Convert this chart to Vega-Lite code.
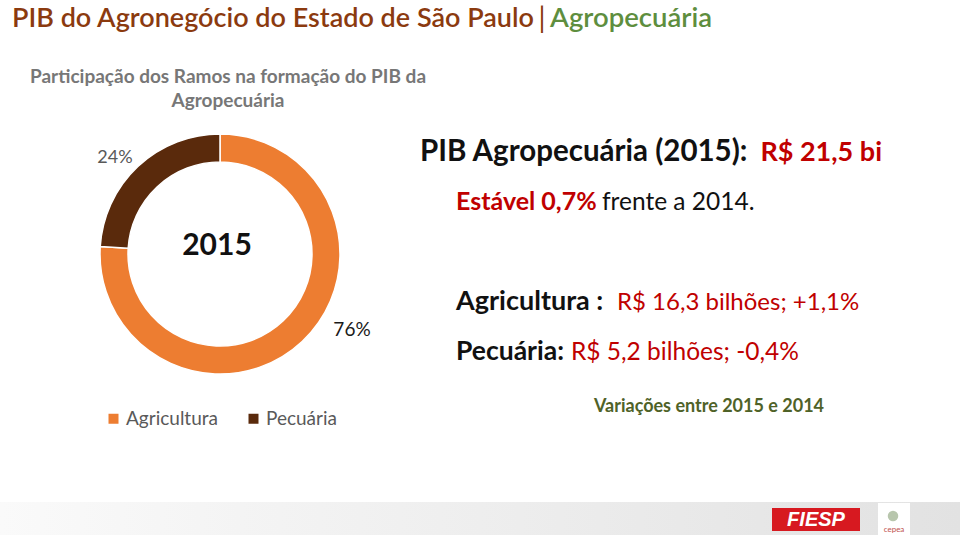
{
  "$schema": "https://vega.github.io/schema/vega-lite/v6.json",
  "width": 960,
  "height": 539,
  "autosize": {"type": "none"},
  "padding": 0,
  "background": "white",
  "config": {"view": {"stroke": null}, "font": "Lato"},
  "layer": [
    {
      "data": {"values": [{"faixa": "rodape"}]},
      "mark": {"type": "rect", "x": 0, "x2": 960, "y": 502, "y2": 535,
        "color": {"gradient": "linear", "x1": 0, "x2": 1, "y1": 0, "y2": 0,
          "stops": [{"offset": 0, "color": "#fafafa"}, {"offset": 1, "color": "#e2e2e2"}]}},
      "encoding": {}
    },
    {
      "data": {"values": [{"t": "PIB do Agronegócio do Estado de São Paulo"}]},
      "mark": {"type": "text", "x": 12, "y": 27, "align": "left", "baseline": "alphabetic", "fontSize": 27, "fontWeight": 600, "color": "#8B3A0F"},
      "encoding": {"text": {"field": "t"}}
    },
    {
      "data": {"values": [{"t": "|"}]},
      "mark": {"type": "text", "x": 542, "y": 28, "align": "center", "baseline": "alphabetic", "fontSize": 28, "fontWeight": 400, "color": "#8B3A0F"},
      "encoding": {"text": {"field": "t"}}
    },
    {
      "data": {"values": [{"t": "Agropecuária"}]},
      "mark": {"type": "text", "x": 550, "y": 27, "align": "left", "baseline": "alphabetic", "fontSize": 27.5, "fontWeight": 600, "color": "#5E8E3E"},
      "encoding": {"text": {"field": "t"}}
    },
    {
      "data": {"values": [{"t": "Participação dos Ramos na formação do PIB da"}]},
      "mark": {"type": "text", "x": 228, "y": 83, "align": "center", "baseline": "alphabetic", "fontSize": 19, "fontWeight": "bold", "color": "#777777"},
      "encoding": {"text": {"field": "t"}}
    },
    {
      "data": {"values": [{"t": "Agropecuária"}]},
      "mark": {"type": "text", "x": 228, "y": 107, "align": "center", "baseline": "alphabetic", "fontSize": 19, "fontWeight": "bold", "color": "#777777"},
      "encoding": {"text": {"field": "t"}}
    },
    {
      "data": {"values": [
        {"ramo": "Agricultura", "participacao": 0.76},
        {"ramo": "Pecuária", "participacao": 0.24}
      ]},
      "layer": [
        {
          "mark": {"type": "arc", "x": 220, "y": 254, "radius": 120, "radius2": 92, "stroke": "white", "strokeWidth": 1.5},
          "encoding": {
            "theta": {"field": "participacao", "type": "quantitative", "stack": true},
            "color": {"field": "ramo", "type": "nominal",
              "scale": {"domain": ["Agricultura", "Pecuária"], "range": ["#ED7D31", "#5A2A0C"]},
              "legend": {"orient": "none", "legendX": 104, "legendY": 409, "direction": "horizontal", "title": null,
                "symbolType": "square", "symbolSize": 100, "symbolStrokeWidth": 0, "labelFontSize": 19, "labelColor": "#595959",
                "labelFont": "Lato", "columnPadding": 26, "labelOffset": 3}}
          }
        },
        {
          "transform": [{"filter": "datum.ramo === 'Pecuária'"}],
          "mark": {"type": "text", "x": 115, "y": 158, "align": "center", "baseline": "middle", "fontSize": 18, "color": "#595959"},
          "encoding": {"text": {"field": "participacao", "type": "quantitative", "format": ".0%"}}
        },
        {
          "transform": [{"filter": "datum.ramo === 'Agricultura'"}],
          "mark": {"type": "text", "x": 352, "y": 330, "align": "center", "baseline": "middle", "fontSize": 19, "color": "#1a1a1a"},
          "encoding": {"text": {"field": "participacao", "type": "quantitative", "format": ".0%"}}
        }
      ]
    },
    {
      "data": {"values": [{"t": "2015"}]},
      "mark": {"type": "text", "x": 217, "y": 246, "align": "center", "baseline": "middle", "fontSize": 30, "fontWeight": "bold", "color": "#111111"},
      "encoding": {"text": {"field": "t"}}
    },
    {
      "data": {"values": [{"t": "PIB Agropecuária (2015):"}]},
      "mark": {"type": "text", "x": 420, "y": 161, "align": "left", "baseline": "alphabetic", "fontSize": 29.5, "fontWeight": "bold", "color": "#111111"},
      "encoding": {"text": {"field": "t"}}
    },
    {
      "data": {"values": [{"t": "R$ 21,5 bi"}]},
      "mark": {"type": "text", "x": 882, "y": 161, "align": "right", "baseline": "alphabetic", "fontSize": 27, "fontWeight": "bold", "color": "#C00000"},
      "encoding": {"text": {"field": "t"}}
    },
    {
      "data": {"values": [{"t": "Estável 0,7%"}]},
      "mark": {"type": "text", "x": 456, "y": 210, "align": "left", "baseline": "alphabetic", "fontSize": 25, "fontWeight": "bold", "color": "#C00000"},
      "encoding": {"text": {"field": "t"}}
    },
    {
      "data": {"values": [{"t": "frente a 2014."}]},
      "mark": {"type": "text", "x": 602, "y": 210, "align": "left", "baseline": "alphabetic", "fontSize": 24.5, "color": "#111111"},
      "encoding": {"text": {"field": "t"}}
    },
    {
      "data": {"values": [{"t": "Agricultura :"}]},
      "mark": {"type": "text", "x": 456, "y": 310, "align": "left", "baseline": "alphabetic", "fontSize": 27, "fontWeight": "bold", "color": "#111111"},
      "encoding": {"text": {"field": "t"}}
    },
    {
      "data": {"values": [{"t": "R$ 16,3 bilhões; +1,1%"}]},
      "mark": {"type": "text", "x": 617, "y": 310, "align": "left", "baseline": "alphabetic", "fontSize": 24, "color": "#C00000"},
      "encoding": {"text": {"field": "t"}}
    },
    {
      "data": {"values": [{"t": "Pecuária:"}]},
      "mark": {"type": "text", "x": 456, "y": 360, "align": "left", "baseline": "alphabetic", "fontSize": 26.5, "fontWeight": "bold", "color": "#111111"},
      "encoding": {"text": {"field": "t"}}
    },
    {
      "data": {"values": [{"t": "R$ 5,2 bilhões; -0,4%"}]},
      "mark": {"type": "text", "x": 571, "y": 360, "align": "left", "baseline": "alphabetic", "fontSize": 24.5, "color": "#C00000"},
      "encoding": {"text": {"field": "t"}}
    },
    {
      "data": {"values": [{"t": "Variações entre 2015 e 2014"}]},
      "mark": {"type": "text", "x": 709, "y": 412, "align": "center", "baseline": "alphabetic", "fontSize": 18, "fontWeight": "bold", "color": "#4F6228"},
      "encoding": {"text": {"field": "t"}}
    },
    {
      "data": {"values": [{"logo": "FIESP"}]},
      "layer": [
        {"mark": {"type": "rect", "x": 772, "x2": 860, "y": 508, "y2": 531, "color": "#D71920"}, "encoding": {}},
        {"mark": {"type": "text", "x": 816, "y": 520, "align": "center", "baseline": "middle", "fontSize": 20, "fontWeight": "bold", "fontStyle": "italic", "color": "white", "font": "Liberation Sans"},
         "encoding": {"text": {"field": "logo"}}}
      ]
    },
    {
      "data": {"values": [{"logo": "cepea"}]},
      "layer": [
        {"mark": {"type": "rect", "x": 878, "x2": 910, "y": 503, "y2": 536, "color": "#ffffff"}, "encoding": {}},
        {"mark": {"type": "point", "x": 893, "y": 516, "shape": "circle", "size": 110, "filled": true, "color": "#9AAE8A"}, "encoding": {}},
        {"mark": {"type": "text", "x": 894, "y": 532, "align": "center", "baseline": "alphabetic", "fontSize": 8, "color": "#C0504D"},
         "encoding": {"text": {"field": "logo"}}}
      ]
    }
  ]
}
